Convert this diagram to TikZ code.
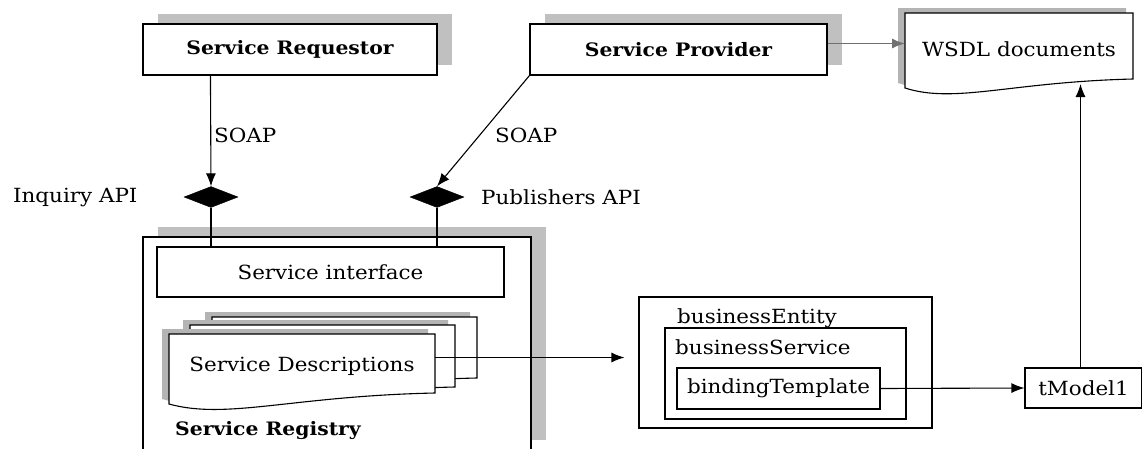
\documentclass[tikz,border=0pt]{standalone}
\usepackage{fontspec}
\setmainfont{DejaVu Serif}[FakeStretch=1.1]
\usetikzlibrary{arrows.meta,shapes.geometric,shadows,calc}

\definecolor{boxshade}{HTML}{C0C0C0}
\definecolor{docshade}{HTML}{B4B4B4}
\definecolor{linegray}{HTML}{707070}

\tikzset{
  lbl/.style={font=\fontsize{19.5}{22}\selectfont, inner sep=0pt},
  boldlbl/.style={font=\fontsize{18.5}{22}\selectfont\bfseries, inner sep=0pt},
  box/.style={draw=black, line width=1.1pt, fill=white, inner sep=0pt},
  shadowbox/.style={box, drop shadow={shadow xshift=15pt, shadow yshift=10pt, fill=boxshade, opacity=1}},
  frame/.style={inner sep=0pt, outer sep=0pt},
  docshape/.style={draw=black, line width=1.1pt, fill=white,
    drop shadow={shadow xshift=-7pt, shadow yshift=5pt, fill=docshade, opacity=1}},
  apiport/.style={diamond, fill=black, draw=black, minimum width=54pt, minimum height=21pt, inner sep=0pt},
  conn/.style={draw=black, line width=1.1pt},
  arr/.style={conn, -{Latex[length=13pt,width=10pt]}},
  grayarr/.style={draw=linegray, line width=1.5pt, -{Latex[length=13pt,width=10pt]}},
}

\begin{document}
\begin{tikzpicture}[x=1pt,y=-1pt]
\useasboundingbox (0,0) rectangle (1142,448);
\clip (0,0) rectangle (1142,448);

% top actors
\node[shadowbox, boldlbl, minimum width=294pt, minimum height=51pt] (req) at (290,49.5) {Service Requestor};
\node[shadowbox, boldlbl, minimum width=297pt, minimum height=51pt] (sp) at (678.5,49.5) {Service Provider};

% WSDL document
\node[frame, minimum width=228pt, minimum height=66pt] (wsdl) at (1019,46) {};
\path[docshape] (wsdl.north west) -- (wsdl.north east) -- (wsdl.south east)
  .. controls +(-123,3) and +(50,16) .. ($(wsdl.south west)+(0,9)$) -- cycle;
\node[lbl] (wsdlText) at ($(wsdl.center)+(0,3)$) {WSDL documents};

% registry
\node[shadowbox, minimum width=388pt, minimum height=213pt] (reg) at (337,343.5) {};
\node[box, lbl, minimum width=347pt, minimum height=50pt] (si) at (330.5,272) {Service interface};

% stacked service descriptions
\node[frame, minimum width=265pt, minimum height=61pt] (sdBack) at (344.5,347.5) {};
\node[frame, minimum width=265pt, minimum height=62pt] (sdMid) at (322.5,356) {};
\node[frame, minimum width=266pt, minimum height=59pt] (sd) at (302,363.5) {};
\foreach \d in {sdBack,sdMid,sd}{
  \path[docshape] (\d.north west) -- (\d.north east) -- (\d.south east)
    .. controls +(-143,3) and +(58,16) .. ($(\d.south west)+(0,11)$) -- cycle;
}
\node[lbl] (sdText) at ($(sd.center)+(0,2.5)$) {Service Descriptions};
\node[boldlbl, anchor=west] (regLbl) at (175,431) {Service Registry};

% API ports
\node[apiport] (iq) at (211,197) {};
\node[apiport] (pub) at (437,197) {};
\node[lbl, anchor=west] (iqLbl) at (13,197) {Inquiry API};
\node[lbl, anchor=west] (pubLbl) at (481,197) {Publishers API};
\node[lbl, anchor=west] (soapL) at (214,135) {SOAP};
\node[lbl, anchor=west] (soapR) at (495,135) {SOAP};

% UDDI data structures
\node[box, minimum width=293pt, minimum height=131pt, fill=none] (be) at (785.5,362.5) {};
\node[box, minimum width=241pt, minimum height=91pt, fill=none] (bs) at (785.5,373.5) {};
\node[box, lbl, minimum width=203pt, minimum height=41pt] (bt) at (778.5,388.5) {bindingTemplate};
\node[lbl, anchor=base west] (beLbl) at (677,323) {businessEntity};
\node[lbl, anchor=base west] (bsLbl) at (675,354) {businessService};
\node[box, lbl, minimum width=117pt, minimum height=40pt] (tm) at (1083.5,388) {tModel1};

% connectors
\coordinate (reqOut) at ($(req.south west)+(68,0)$);
\draw[arr] (reqOut) -- (iq.north);
\draw[conn] (iq.south) -- (iq.south |- si.north);
\draw[arr] (sp.south west) -- (pub.north);
\draw[conn] (pub.south) -- (pub.south |- si.north);

\coordinate (spOut) at ($(sp.east)+(0,-6)$);
\draw[grayarr] (spOut) -- (spOut -| wsdl.west);

\coordinate (sdOut) at ($(sd.east)+(0,-6)$);
\coordinate (beIn) at ($(be.west |- sdOut)+(-14,0)$);
\draw[arr] (sdOut) -- (beIn);

\draw[arr] (bt.east) -- (tm.west);

\coordinate (tmTop) at ($(tm.north)+(-3,0)$);
\coordinate (wsdlIn) at ($(tmTop |- wsdl.south)+(0,5)$);
\draw[arr] (tmTop) -- (wsdlIn);
\end{tikzpicture}
\end{document}
